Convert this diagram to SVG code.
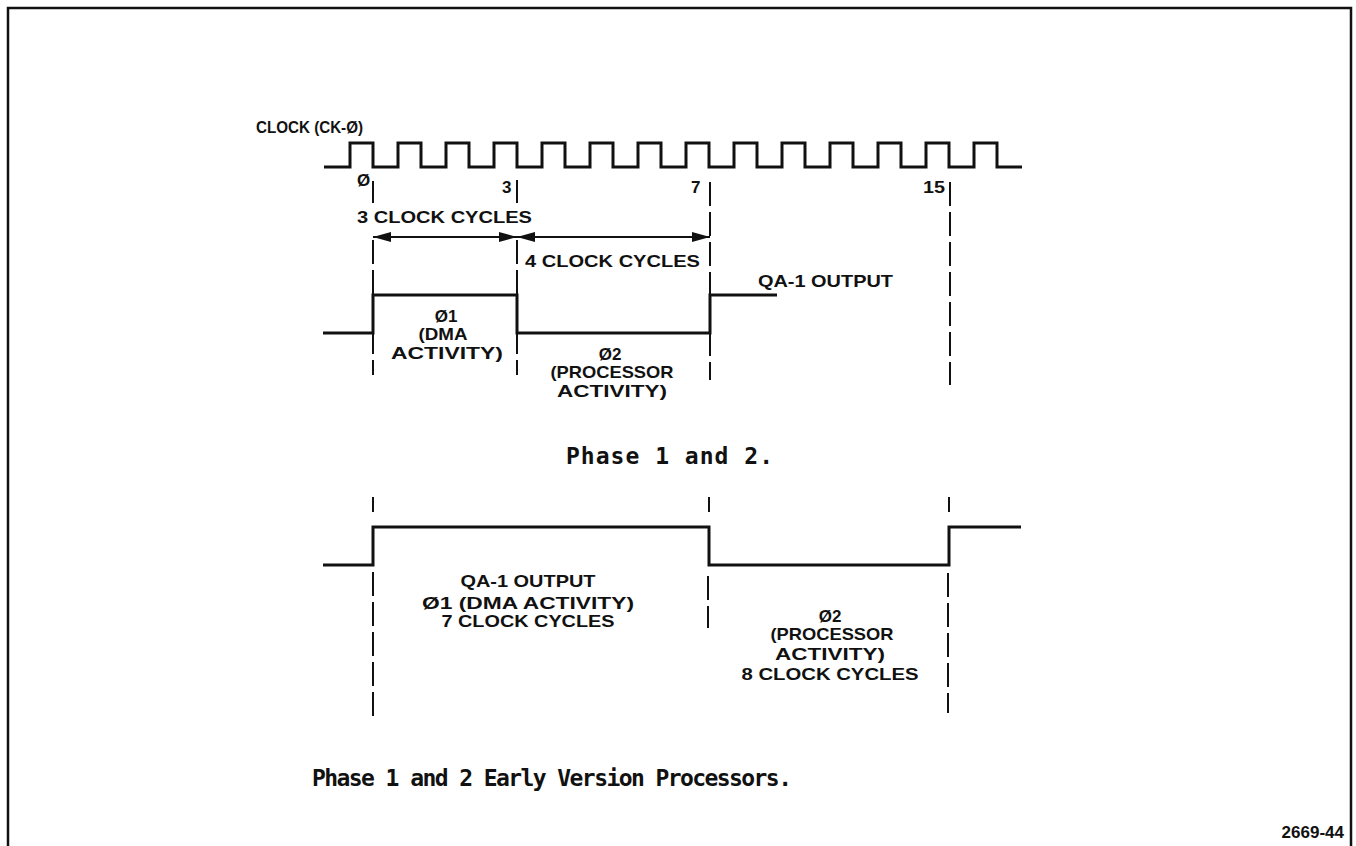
<svg xmlns="http://www.w3.org/2000/svg" width="1356" height="846" viewBox="0 0 1356 846">
<style>
.sig{fill:none;stroke:#111;stroke-width:3;stroke-linejoin:miter}
.dash{fill:none;stroke:#111;stroke-width:2;stroke-dasharray:24 6}
.tick{fill:none;stroke:#111;stroke-width:2}
.dim{fill:none;stroke:#111;stroke-width:2}
.lbl{font-family:"Liberation Sans",Arial,sans-serif;font-weight:bold;font-size:17px;fill:#111}
.ttl{font-family:"DejaVu Sans Mono","Liberation Mono",monospace;font-weight:bold;font-size:23px;fill:#111}
</style>
<defs>
<marker id="ah" markerWidth="18" markerHeight="10" refX="18" refY="5" orient="auto-start-reverse" markerUnits="userSpaceOnUse">
<path d="M0,0 L18,5 L0,10 Z" fill="#111"/>
</marker>
</defs>
<rect width="1356" height="846" fill="#fff"/>
<path d="M8,846 L8,8 L1351,8 L1351,846" fill="none" stroke="#111" stroke-width="2.5"/>

<g id="clock">
<text class="lbl" x="256" y="133" textLength="107" lengthAdjust="spacingAndGlyphs">CLOCK (CK-Ø)</text>
<path class="sig" d="M324,167 L350,167 L350,143 L373,143 L373,167 L398,167 L398,143 L421,143 L421,167 L446,167 L446,143 L469,143 L469,167 L494,167 L494,143 L517,143 L517,167 L542,167 L542,143 L565,143 L565,167 L590,167 L590,143 L613,143 L613,167 L638,167 L638,143 L661,143 L661,167 L686,167 L686,143 L709,143 L709,167 L734,167 L734,143 L757,143 L757,167 L782,167 L782,143 L805,143 L805,167 L830,167 L830,143 L853,143 L853,167 L878,167 L878,143 L901,143 L901,167 L926,167 L926,143 L949,143 L949,167 L974,167 L974,143 L997,143 L997,167 L1022,167"/>
<text class="lbl" x="357" y="186">Ø</text>
<text class="lbl" x="502" y="193">3</text>
<text class="lbl" x="691" y="193">7</text>
<text class="lbl" x="923" y="193" textLength="22" lengthAdjust="spacingAndGlyphs">15</text>
</g>

<g id="phase12">
<path class="sig" d="M323,333 L373,333 L373,295 L517,295 L517,333 L710,333 L710,295 L777,295"/>
<text class="lbl" x="357" y="223" textLength="175" lengthAdjust="spacingAndGlyphs">3 CLOCK CYCLES</text>
<text class="lbl" x="525" y="267" textLength="175" lengthAdjust="spacingAndGlyphs">4 CLOCK CYCLES</text>
<text class="lbl" x="758" y="287" textLength="135" lengthAdjust="spacingAndGlyphs">QA-1 OUTPUT</text>
<g class="lbl" text-anchor="middle">
<text x="446" y="322">Ø1</text>
<text x="443" y="340" textLength="49" lengthAdjust="spacingAndGlyphs">(DMA</text>
<text x="447" y="359" textLength="112" lengthAdjust="spacingAndGlyphs">ACTIVITY)</text>
<text x="610" y="360">Ø2</text>
<text x="612" y="378" textLength="123" lengthAdjust="spacingAndGlyphs">(PROCESSOR</text>
<text x="612" y="397" textLength="110" lengthAdjust="spacingAndGlyphs">ACTIVITY)</text>
</g>
<text class="ttl" x="566" y="464" textLength="207" lengthAdjust="spacing">Phase 1 and 2.</text>
</g>

<g id="phase12early">
<path class="sig" d="M323,565 L373,565 L373,527 L709,527 L709,565 L949,565 L949,527 L1021,527"/>
<g class="lbl" text-anchor="middle">
<text x="528" y="587" textLength="135" lengthAdjust="spacingAndGlyphs">QA-1 OUTPUT</text>
<text x="528" y="609" textLength="212" lengthAdjust="spacingAndGlyphs">Ø1 (DMA ACTIVITY)</text>
<text x="528" y="627" textLength="173" lengthAdjust="spacingAndGlyphs">7 CLOCK CYCLES</text>
<text x="830" y="622">Ø2</text>
<text x="832" y="640" textLength="123" lengthAdjust="spacingAndGlyphs">(PROCESSOR</text>
<text x="830" y="660" textLength="110" lengthAdjust="spacingAndGlyphs">ACTIVITY)</text>
<text x="830" y="680" textLength="177" lengthAdjust="spacingAndGlyphs">8 CLOCK CYCLES</text>
</g>
<text class="ttl" x="312" y="786" textLength="480" lengthAdjust="spacing">Phase 1 and 2 Early Version Processors.</text>
</g>

<g id="connectors">
<line class="tick" x1="373" y1="181" x2="373" y2="203"/>
<line class="tick" x1="517" y1="180" x2="517" y2="203"/>
<line class="dash" x1="710" y1="182" x2="710" y2="380"/>
<line class="dash" x1="950" y1="182" x2="950" y2="385"/>
<line class="dash" x1="373" y1="240" x2="373" y2="375"/>
<line class="dash" x1="517" y1="240" x2="517" y2="375"/>
<line class="dim" x1="373" y1="237" x2="517" y2="237" marker-start="url(#ah)" marker-end="url(#ah)"/>
<line class="dim" x1="517" y1="237" x2="710" y2="237" marker-start="url(#ah)" marker-end="url(#ah)"/>
<line class="tick" x1="373" y1="497" x2="373" y2="512"/>
<line class="tick" x1="709" y1="497" x2="709" y2="512"/>
<line class="tick" x1="949" y1="497" x2="949" y2="512"/>
<line class="dash" x1="373" y1="572" x2="373" y2="720"/>
<line class="dash" x1="708" y1="576" x2="708" y2="628"/>
<line class="dash" x1="948" y1="573" x2="948" y2="713"/>
</g>

<text class="lbl" x="1344" y="838" text-anchor="end" font-size="15">2669-44</text>
</svg>
